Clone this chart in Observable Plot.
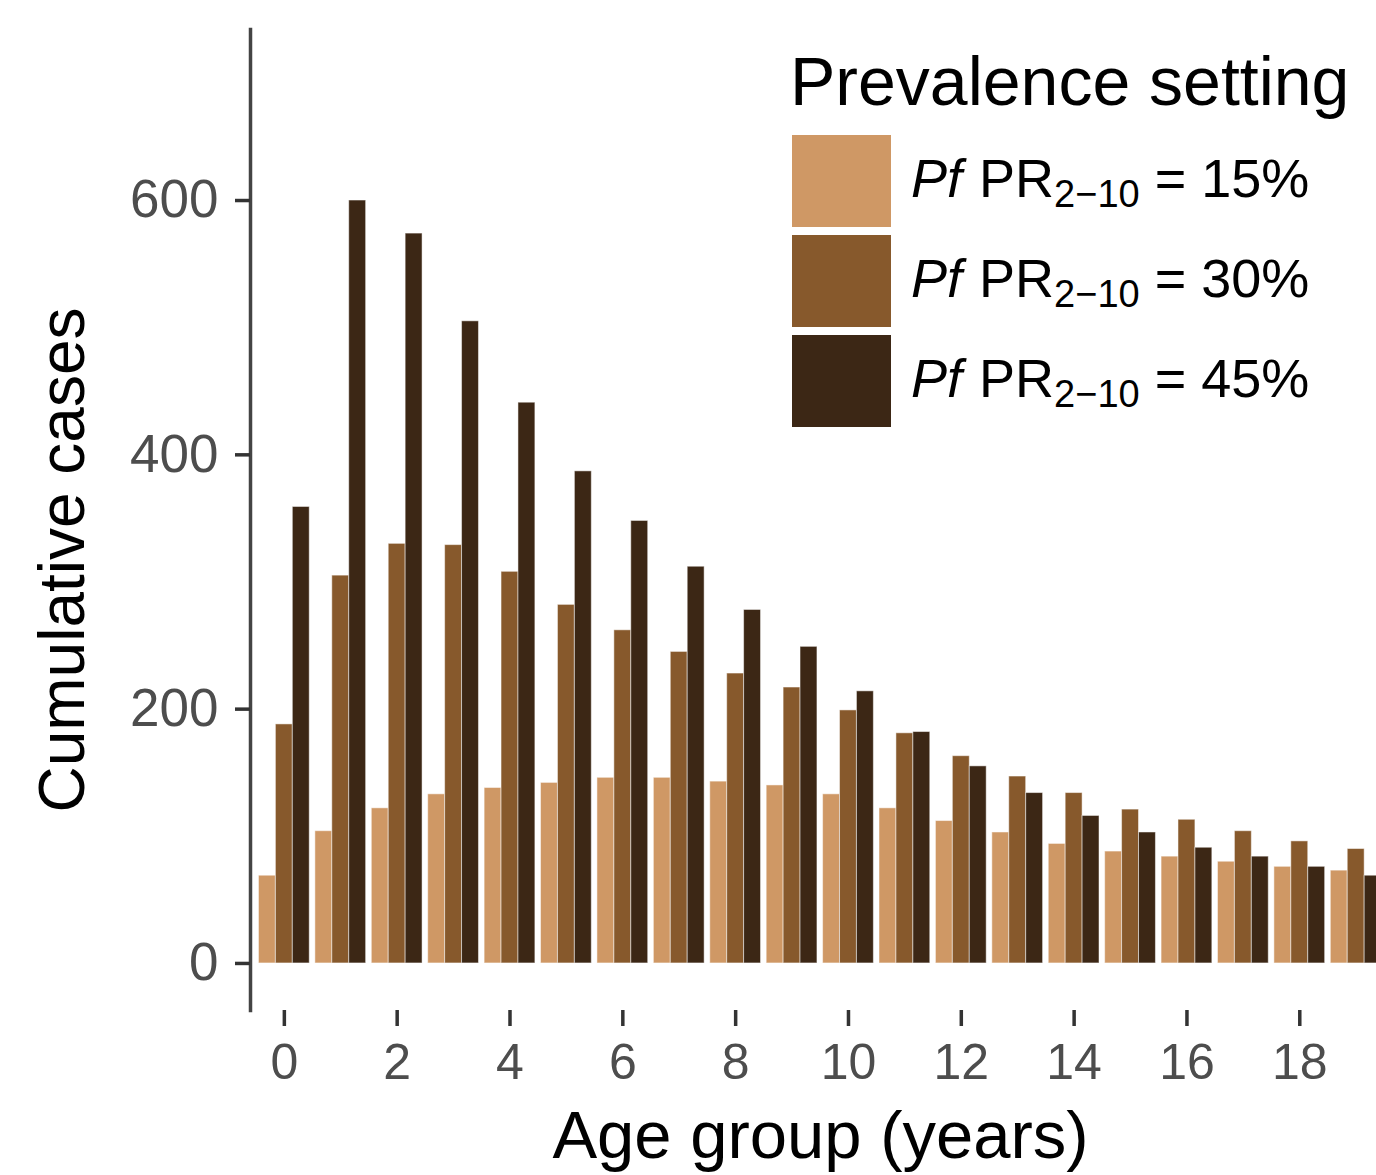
<!DOCTYPE html>
<html>
<head>
<meta charset="utf-8">
<script src="https://cdn.jsdelivr.net/npm/d3@7"></script>
<script src="https://cdn.jsdelivr.net/npm/@observablehq/plot@0.6"></script>
<style>
  body { margin: 0; background: #fff; }
  svg { display: block; }
</style>
</head>
<body>
<div id="chart"></div>
<script>
// ---- data ----
const ages = [0, 1, 2, 3, 4, 5, 6, 7, 8, 9, 10, 11, 12, 13, 14, 15, 16, 17, 18, 19];
const seriesLabels = ["15%", "30%", "45%"];
const seriesColors = ["#CF9865", "#87592C", "#3C2715"];
const cases15 = [69, 104, 122, 133, 138, 142, 146, 146, 143, 140, 133, 122, 112, 103, 94, 88, 84, 80, 76, 73];
const cases30 = [188, 305, 330, 329, 308, 282, 262, 245, 228, 217, 199, 181, 163, 147, 134, 121, 113, 104, 96, 90];
const cases45 = [359, 600, 574, 505, 441, 387, 348, 312, 278, 249, 214, 182, 155, 134, 116, 103, 91, 84, 76, 69];
const xTicks = [0, 2, 4, 6, 8, 10, 12, 14, 16, 18];
const yTicks = [0, 200, 400, 600];

const table = [];
[cases15, cases30, cases45].forEach((vals, k) =>
  vals.forEach((v, j) => table.push({ age: ages[j], series: seriesLabels[k], k, value: v }))
);

const font = "'Liberation Sans', Arial, Helvetica, sans-serif";
const dodge = 0.3; // each bar's share of the 0.9-wide group

const plot = Plot.plot({
  width: 1376,
  height: 1175,
  marginLeft: 250,
  marginRight: 0,
  marginTop: 29,
  marginBottom: 165,
  style: { fontFamily: font, background: "white", color: "#4d4d4d" },
  x: { domain: [-0.6, 19.36] },
  y: { domain: [-37, 734.5] },
  color: { domain: seriesLabels, range: seriesColors },
  marks: [
    Plot.rectY(table, {
      x1: d => d.age - 0.45 + d.k * dodge,
      x2: d => d.age - 0.45 + (d.k + 1) * dodge,
      y1: 0,
      y2: "value",
      fill: "series",
      stroke: "white",
      strokeOpacity: 0.5,
      strokeWidth: 1,
      clip: true
    }),
    Plot.frame({ anchor: "left", stroke: "#444444", strokeWidth: 3.5 }),
    Plot.axisY({ ticks: yTicks, tickSize: 15, tickPadding: 17, fontSize: 53, fill: "#4d4d4d", stroke: "#333333", strokeWidth: 3.5, label: null }),
    Plot.axisX({ ticks: xTicks, tickSize: 16, tickPadding: 17, fontSize: 50, fill: "#4d4d4d", stroke: "#333333", strokeWidth: 3.5, label: null }),
    Plot.text(["Age group (years)"], { frameAnchor: "bottom", textAnchor: "middle", lineAnchor: "middle", dx: 7, dy: 126, fontSize: 67, fill: "black" }),
    Plot.text(["Cumulative cases"], { frameAnchor: "left", textAnchor: "middle", lineAnchor: "middle", rotate: -90, dx: -187, dy: 40, fontSize: 64, fill: "black" })
  ]
});

document.getElementById("chart").appendChild(plot);

// ---- legend ----
const svg = d3.select(plot);
const lg = svg.append("g").attr("font-family", font).attr("fill", "black").attr("text-anchor", "start");
lg.append("text").attr("x", 790).attr("y", 105).attr("font-size", 68).text("Prevalence setting");
seriesLabels.forEach((s, i) => {
  const y0 = 135 + i * 100;
  lg.append("rect").attr("x", 792).attr("y", y0).attr("width", 99).attr("height", 92).attr("fill", seriesColors[i]);
  const t = lg.append("text").attr("x", 911).attr("y", y0 + 62).attr("font-size", 54);
  t.append("tspan").attr("font-style", "italic").text("Pf");
  t.append("tspan").attr("dx", 2).text(" PR");
  t.append("tspan").attr("font-size", 38).attr("dy", 10).text("2\u221210");
  t.append("tspan").attr("dy", -10).text(" = " + s);
});
</script>
</body>
</html>
